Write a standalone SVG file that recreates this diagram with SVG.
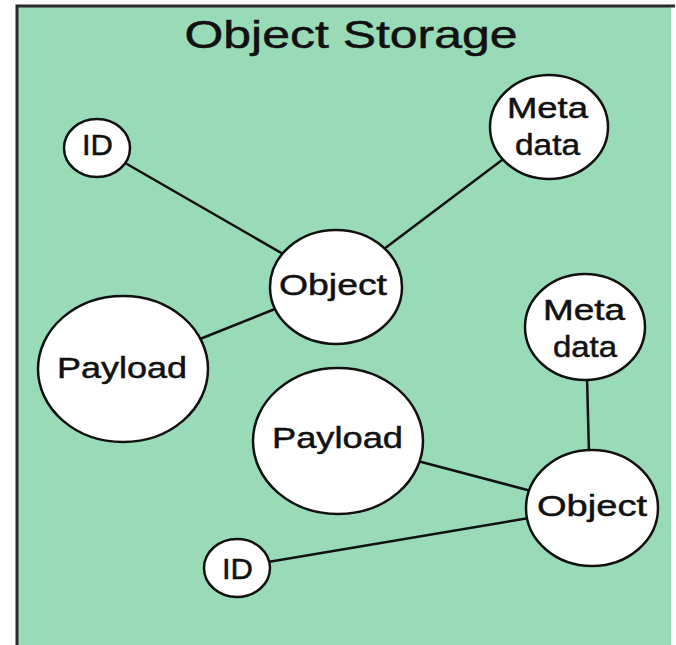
<svg xmlns="http://www.w3.org/2000/svg" width="676" height="645" viewBox="0 0 676 645">
  <style>
    .node { fill: #ffffff; stroke: #111111; stroke-width: 2.5; }
    .link { stroke: #111111; stroke-width: 2.5; fill: none; stroke-linecap: round; }
    .label { font-family: "Liberation Sans", Arial, Helvetica, sans-serif; font-size: 30px; fill: #111111; stroke: #111111; stroke-width: 0.5; text-anchor: middle; }
    .title { font-family: "Liberation Sans", Arial, Helvetica, sans-serif; font-size: 39px; fill: #111111; stroke: #111111; stroke-width: 0.5; text-anchor: middle; }
  </style>

  <!-- page background and storage frame -->
  <rect x="0" y="0" width="676" height="645" fill="#ffffff"/>
  <rect x="17" y="6" width="654" height="639" fill="#98dbb6"/>
  <path d="M17 645 V6 H675" fill="none" stroke="#2a2a2a" stroke-width="3"/>

  <text class="title" x="351" y="48" textLength="333" lengthAdjust="spacingAndGlyphs">Object Storage</text>

  <!-- connectors -->
  <g id="connectors">
    <line class="link" x1="120" y1="160" x2="290" y2="258"/>
    <line class="link" x1="510" y1="154" x2="380" y2="252"/>
    <line class="link" x1="195" y1="341" x2="285" y2="305"/>
    <line class="link" x1="587" y1="376" x2="589" y2="454"/>
    <line class="link" x1="410" y1="459" x2="535" y2="492"/>
    <line class="link" x1="262" y1="563" x2="535" y2="517"/>
  </g>

  <g id="id-top">
    <ellipse class="node" cx="97" cy="148" rx="33" ry="29"/>
    <text class="label" x="97.5" y="155" textLength="31" lengthAdjust="spacingAndGlyphs">ID</text>
  </g>

  <g id="metadata-top">
    <ellipse class="node" cx="549" cy="127" rx="59" ry="52"/>
    <text class="label" x="547.5" y="118" textLength="81" lengthAdjust="spacingAndGlyphs">Meta</text>
    <text class="label" x="547.5" y="155" textLength="65" lengthAdjust="spacingAndGlyphs">data</text>
  </g>

  <g id="object-top">
    <ellipse class="node" cx="336" cy="287" rx="66" ry="57"/>
    <text class="label" x="333" y="295" textLength="108" lengthAdjust="spacingAndGlyphs">Object</text>
  </g>

  <g id="payload-left">
    <ellipse class="node" cx="123" cy="369" rx="85" ry="73"/>
    <text class="label" x="122" y="378" textLength="130" lengthAdjust="spacingAndGlyphs">Payload</text>
  </g>

  <g id="metadata-right">
    <ellipse class="node" cx="585" cy="327" rx="60" ry="53"/>
    <text class="label" x="584" y="320" textLength="82" lengthAdjust="spacingAndGlyphs">Meta</text>
    <text class="label" x="585" y="357" textLength="64" lengthAdjust="spacingAndGlyphs">data</text>
  </g>

  <g id="payload-right">
    <ellipse class="node" cx="338" cy="441" rx="85" ry="73"/>
    <text class="label" x="337.5" y="448" textLength="131" lengthAdjust="spacingAndGlyphs">Payload</text>
  </g>

  <g id="object-right">
    <ellipse class="node" cx="592" cy="508" rx="66" ry="58"/>
    <text class="label" x="592" y="516" textLength="110" lengthAdjust="spacingAndGlyphs">Object</text>
  </g>

  <g id="id-bottom">
    <ellipse class="node" cx="237" cy="568" rx="33" ry="29"/>
    <text class="label" x="237.5" y="579" textLength="31" lengthAdjust="spacingAndGlyphs">ID</text>
  </g>
</svg>
